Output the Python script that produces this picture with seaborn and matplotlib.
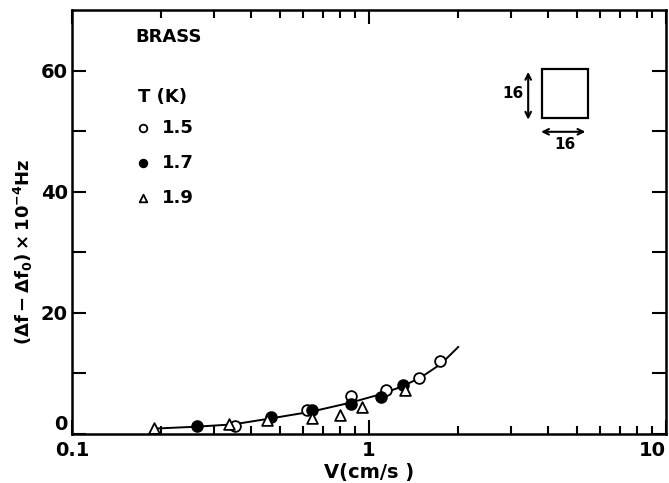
import numpy as np
import pandas as pd
import matplotlib
matplotlib.use("Agg")
import matplotlib.pyplot as plt
import seaborn as sns
from matplotlib.ticker import FixedLocator, NullFormatter, LogLocator

# ---- data ----
v_15 = [0.354, 0.617, 0.872, 1.14, 1.47, 1.73]
y_15 = [1.4, 4.0, 6.25, 7.35, 9.2, 12.0]

v_17 = [0.264, 0.467, 0.641, 0.872, 1.095, 1.30]
y_17 = [1.27, 2.77, 4.0, 5.0, 6.1, 8.1]

v_19 = [0.189, 0.338, 0.455, 0.641, 0.799, 0.945, 1.32]
y_19 = [0.95, 1.66, 2.3, 2.65, 3.2, 4.4, 7.2]

curve_v = [0.19, 0.26, 0.35, 0.47, 0.64, 0.87, 1.1, 1.3, 1.5, 1.75, 2.0]
curve_y = [0.9, 1.2, 1.6, 2.6, 3.7, 5.2, 6.6, 7.9, 9.4, 11.6, 14.4]

temps = ["1.5", "1.7", "1.9"]
y_ticks = [0, 20, 40, 60]
x_ticks = [0.1, 1, 10]
x_ticklabels = ["0.1", "1", "10"]

df = pd.concat([
    pd.DataFrame({"V": v_15, "dF": y_15, "T": temps[0]}),
    pd.DataFrame({"V": v_17, "dF": y_17, "T": temps[1]}),
    pd.DataFrame({"V": v_19, "dF": y_19, "T": temps[2]}),
])
curve = pd.DataFrame({"V": curve_v, "dF": curve_y})

sns.set_style("ticks")
plt.rcParams["font.family"] = ["DejaVu Sans"]
plt.rcParams["font.weight"] = "bold"
plt.rcParams["mathtext.fontset"] = "dejavusans"
plt.rcParams["mathtext.default"] = "bf"
for k in ["text.color", "axes.labelcolor", "xtick.color", "ytick.color",
          "axes.edgecolor"]:
    plt.rcParams[k] = "black"

fig = plt.figure(figsize=(6.69, 4.83), dpi=100)
ax = fig.add_axes([0.1076, 0.1014, 0.8879, 0.8776])

sns.lineplot(data=curve, x="V", y="dF", ax=ax, color="black", lw=1.4,
             estimator=None, sort=False)

styles = {
    "1.5": dict(marker="o", facecolor="white", edgecolor="black"),
    "1.7": dict(marker="o", facecolor="black", edgecolor="black"),
    "1.9": dict(marker="^", facecolor="white", edgecolor="black"),
}
for t in temps:
    sub = df[df["T"] == t]
    st = styles[t]
    sns.scatterplot(data=sub, x="V", y="dF", ax=ax, marker=st["marker"],
                    facecolor=st["facecolor"], edgecolor=st["edgecolor"],
                    s=60, linewidth=1.3, zorder=3)

ax.set_xscale("log")
ax.set_xlim(0.1, 10)
ax.set_ylim(0, 70)
ax.set_xticks(x_ticks)
ax.set_xticklabels(x_ticklabels)
ax.xaxis.set_minor_locator(LogLocator(base=10, subs=np.arange(2, 10)))
ax.xaxis.set_minor_formatter(NullFormatter())
ax.set_yticks(y_ticks)
ax.set_yticklabels([str(v) for v in y_ticks])
ax.yaxis.set_minor_locator(FixedLocator([10, 30, 50]))

ax.tick_params(which="both", direction="in", top=True, right=True,
               labelsize=14, width=1.5, colors="black")
ax.tick_params(which="major", length=10)
ax.tick_params(axis="x", which="minor", length=6)
ax.tick_params(axis="y", which="minor", length=10)
ax.tick_params(axis="x", pad=5)
ax.tick_params(axis="y", pad=3)
xt = ax.get_xticklabels()
xt[-1].set_horizontalalignment("right")
yt = ax.get_yticklabels()
yt[0].set_verticalalignment("bottom")
for s in ax.spines.values():
    s.set_linewidth(1.8)
    s.set_color("black")

ax.set_xlabel("V(cm/s )", fontsize=14, fontweight="bold", labelpad=2)
ax.set_ylabel(r"$(\Delta f-\Delta f_0)\times10^{-4}$Hz", fontsize=13,
              fontweight="bold")
ax.yaxis.set_label_coords(-0.062, 0.43)

# Legend drawn by hand
tr = ax.transAxes
ax.text(0.106, 0.936, "BRASS", transform=tr, fontsize=13, fontweight="bold",
        va="center", ha="left")
ax.text(0.111, 0.795, "T (K)", transform=tr, fontsize=13, fontweight="bold",
        va="center", ha="left")
rows = [0.722, 0.639, 0.557]
for t, yy in zip(temps, rows):
    st = styles[t]
    ax.scatter([0.12], [yy], transform=tr, marker=st["marker"],
               facecolor=st["facecolor"], edgecolor="black", s=30,
               linewidth=1.3, clip_on=False)
    ax.text(0.152, yy, t, transform=tr, fontsize=13, fontweight="bold",
            va="center", ha="left")

# Inset sample sketch
ax.add_patch(plt.Rectangle((0.791, 0.745), 0.078, 0.116, transform=tr,
                           fill=False, lw=1.6, ec="black"))
ax.annotate("", xy=(0.768, 0.861), xytext=(0.768, 0.735), xycoords=tr,
            arrowprops=dict(arrowstyle="<->", lw=1.5, color="black"))
ax.annotate("", xy=(0.869, 0.713), xytext=(0.785, 0.713), xycoords=tr,
            arrowprops=dict(arrowstyle="<->", lw=1.5, color="black"))
ax.text(0.742, 0.804, "16", transform=tr, fontsize=11, fontweight="bold",
        va="center", ha="center")
ax.text(0.830, 0.683, "16", transform=tr, fontsize=11, fontweight="bold",
        va="center", ha="center")

fig.savefig("out.png", dpi=100)
